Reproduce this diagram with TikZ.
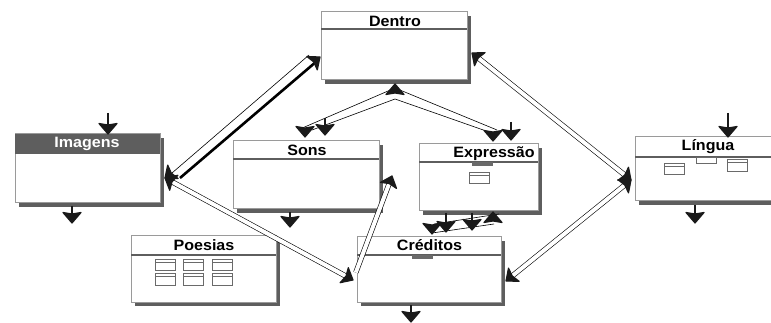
\documentclass[tikz,border=0pt]{standalone}
\usepackage{fontspec}
\newfontfamily\tf{Liberation Sans}[FakeStretch=1.07]
\usetikzlibrary{shadows,fit}
\definecolor{shd}{HTML}{5E5E5E}
\definecolor{brd}{HTML}{9A9A9A}
\definecolor{icn}{HTML}{6A6A6A}
\definecolor{hd}{HTML}{1A1A1A}
\tikzset{
  boxst/.style={draw=brd, fill=white, line width=1pt, inner sep=0pt,
     drop shadow={shadow xshift=4pt, shadow yshift=-4pt, fill=shd, opacity=1}},
  bandline/.style={draw=shd, line width=2.6pt},
  ttl/.style={font=\tf\bfseries\fontsize{15}{15}\selectfont, inner sep=0pt, anchor=base},
  stem/.style={line width=2.6pt, draw=hd},
  headst/.style={fill=hd, draw=hd, line width=1.2pt, line join=round},
  dl/.style={line width=0.6pt, double=white, double distance=4pt, shorten <=8pt, shorten >=8pt},
  ln/.style={line width=0.6pt},
  icon/.style={draw=icn, line width=0.9pt, fill=white},
}
\newcommand\wbox[6]{%
  \node[boxst, fit={(#2,#3) (#4,#5)}] (#1) {};
  \draw[bandline] (#2,#6) -- (#4,#6);
}
\newcommand\icn[4]{% x y w h
  \draw[icon] (#1,#2) rectangle ++(#3,#4);
  \draw[draw=icn, line width=0.9pt] (#1,#2+3.5) -- ++(#3,0);
}
\newcommand\hdown[2]{\filldraw[headst] (#1,#2) -- (#1+9,#2-10.5) -- (#1,#2-9) -- (#1-9,#2-10.5) -- cycle;}
\newcommand\hup[2]{\filldraw[headst] (#1,#2) -- (#1+9,#2+10.5) -- (#1,#2+9) -- (#1-9,#2+10.5) -- cycle;}
\newcommand\hquad[4]{\filldraw[headst] (#1) -- (#2) -- (#3) -- (#4) -- cycle;}
% down arrow with stem: x, y-from, y-tip
\newcommand\darr[3]{\draw[stem] (#1,#2) -- (#1,#3-8); \hdown{#1}{#3}}
\begin{document}
\begin{tikzpicture}[x=1pt,y=-1pt]
\useasboundingbox (0,0) rectangle (771,323);
\clip (0,0) rectangle (771,323);
\fill[white] (0,0) rectangle (771,323);

% boxes
\wbox{de}{321}{12}{467}{80}{29}
\node[ttl] (det) at (395,26.5) {Dentro};

\wbox{im}{15}{134}{160}{203}{153}
\fill[shd] (15,134) rectangle (160,153);
\node[ttl, text=white] (imt) at (87,148) {Imagens};

\wbox{so}{233}{141}{379}{209}{159}
\node[ttl] (sot) at (307,156) {Sons};

\wbox{ex}{419}{144}{538}{211}{162}
\node[ttl] (ext) at (494,157.5) {Expressão};
\fill[icn] (472,162) rectangle (493,166);
\icn{469}{172}{20}{11}

\wbox{li}{635}{137}{800}{201}{157}
\node[ttl] (lit) at (708,150.5) {Língua};
\icn{664}{163}{20}{11}
\draw[icon] (696,157) rectangle (716,163);
\icn{727}{159}{20}{12}

\wbox{po}{131}{236}{276}{302}{255}
\node[ttl] (pot) at (204,250.7) {Poesias};
\foreach \xx in {155,183,212}{
  \icn{\xx}{259}{20}{11}
  \icn{\xx}{273}{20}{12}
}

\wbox{cr}{357}{237}{501}{302}{255}
\node[ttl] (crt) at (429.5,250.7) {Créditos};
\fill[icn] (412,255) rectangle (433,259);

% connector end points
\coordinate (imE) at (165,178);
\coordinate (deW) at (320,57);
\coordinate (crW) at (353,280);
\coordinate (soE) at (392,176);
\coordinate (deE) at (472,53);
\coordinate (liW) at (631,180);
\coordinate (crE) at (506,281);

% Dentro -- Imagens (thin + thick)
\coordinate (t1) at (172,173);
\coordinate (t2) at (309,55);
\coordinate (k1) at (180,178);
\coordinate (k2) at (317,61);
\draw[ln] (t1) -- (t2);
\draw[line width=2.6pt] (k1) -- (k2);
\hquad{imE}{178.1,178.5}{171.3,173.1}{167.7,165.1}
\hquad{deW}{306.9,56.5}{313.7,61.9}{317.3,69.9}

% Imagens -- Creditos
\draw[dl] (imE) -- (crW);
\hquad{crW}{348.3,267.7}{346.0,276.2}{340.1,282.7}
\hquad{imE}{169.7,190.3}{172.0,181.8}{177.9,175.3}

% Sons -- Creditos
\draw[dl] (soE) -- (crW);
\hquad{soE}{380.5,182.4}{389.2,183.5}{396.5,188.4}

% Dentro -- Lingua
\draw[dl] (deE) -- (liW);
\hquad{deE}{474.5,65.8}{478.2,58.0}{485.1,52.6}
\hquad{liW}{628.5,167.2}{624.8,175.0}{617.9,180.4}

% Lingua -- Creditos
\draw[dl] (liW) -- (crE);
\hquad{crE}{519.1,281.3}{512.2,276.0}{508.5,268.1}
\hquad{liW}{617.9,179.7}{624.8,185.0}{628.5,192.9}

% Dentro -- Sons / Expressao
\coordinate (va) at (395,88);
\coordinate (vb) at (395,99);
\coordinate (sa) at (300,129);
\coordinate (sb) at (312,130);
\coordinate (ea) at (497,130);
\coordinate (eb) at (489,132);
\draw[ln] (sa) -- (va) -- (ea);
\draw[ln] (sb) -- (vb) -- (eb);
\hup{395}{84}
\hdown{305}{137}
\darr{325}{118}{135}
\hdown{493}{141}
\darr{511}{122}{140}

% Expressao -- Creditos
\coordinate (x1) at (434,224);
\coordinate (x2) at (499,214);
\coordinate (x3) at (432,233);
\coordinate (x4) at (494,224);
\draw[ln] (x1) -- (x2);
\draw[ln] (x3) -- (x4);
\hdown{432}{234}
\darr{446}{213}{232}
\darr{472}{213}{230}
\hup{493}{212}

% free arrows
\darr{108}{113}{134}
\darr{72}{206}{223}
\darr{290}{212}{227}
\darr{728}{113}{137}
\darr{695}{205}{223}
\darr{411}{305}{322}
\end{tikzpicture}
\end{document}
